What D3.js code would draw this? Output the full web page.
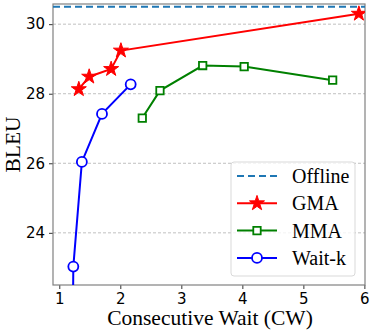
<!DOCTYPE html>
<html><head><meta charset="utf-8">
<script src="https://cdn.jsdelivr.net/npm/d3@7"></script>
<style>body{margin:0;background:#fff}</style>
</head><body>
<svg id="c" width="374" height="334"></svg>
<script>
const offlineBLEU = 30.5;
const gmaCW = [1.32, 1.49, 1.85, 2.01, 5.91];
const gmaBLEU = [28.13, 28.49, 28.71, 29.24, 30.30];
const mmaCW = [2.36, 2.65, 3.35, 4.03, 5.48];
const mmaBLEU = [27.30, 28.09, 28.81, 28.78, 28.39];
const waitkCW = [2.17, 1.70, 1.37, 1.23, 1.22];
const waitkBLEU = [28.27, 27.42, 26.04, 23.03, 21.0];
const xTicks = [1, 2, 3, 4, 5, 6];
const yTicks = [24, 26, 28, 30];
const legendLabels = ["Offline", "GMA", "MMA", "Wait-k"];

const svg = d3.select("#c");
const L = 53, R = 365, T = 4, B = 285;
const x = d3.scaleLinear().domain([0.897, 6.01]).range([L, R]);
const y = d3.scaleLinear().domain([22.5, 30.58]).range([B, T]);

svg.append("defs").append("clipPath").attr("id", "clip")
  .append("rect").attr("x", L).attr("y", T).attr("width", R - L).attr("height", B - T);

// grid
svg.append("g").selectAll("line").data(yTicks).join("line")
  .attr("x1", L).attr("x2", R).attr("y1", d => y(d)).attr("y2", d => y(d))
  .attr("stroke", "#b0b0b0").attr("stroke-width", 0.8).attr("stroke-dasharray", "3,2");

// axes
const xa = svg.append("g").attr("transform", `translate(0,${B})`)
  .call(d3.axisBottom(x).tickValues(xTicks).tickSize(4).tickPadding(4).tickFormat(d3.format("d")));
const ya = svg.append("g").attr("transform", `translate(${L},0)`)
  .call(d3.axisLeft(y).tickValues(yTicks).tickSize(4).tickPadding(4).tickFormat(d3.format("d")));
[xa, ya].forEach(a => {
  a.select(".domain").remove();
  a.selectAll("line").attr("stroke", "#333");
  a.selectAll("text").attr("font-family", "DejaVu Sans").attr("font-size", 15).attr("fill", "#000");
});

// frame
svg.append("rect").attr("x", L).attr("y", T).attr("width", R - L).attr("height", B - T)
  .attr("fill", "none").attr("stroke", "#808080").attr("stroke-width", 1.2);

const plot = svg.append("g").attr("clip-path", "url(#clip)");

// offline
plot.append("line").attr("x1", L).attr("x2", R).attr("y1", y(offlineBLEU)).attr("y2", y(offlineBLEU))
  .attr("stroke", "#1f77b4").attr("stroke-width", 2).attr("stroke-dasharray", "7,4");

const line = d3.line().x(d => x(d[0])).y(d => y(d[1]));
const star = d3.symbol().type(d3.symbolStar).size(70);
const square = d3.symbol().type(d3.symbolSquare).size(55);

function series(cw, bleu, color, marker) {
  const pts = cw.map((c, i) => [c, bleu[i]]);
  plot.append("path").datum(pts).attr("d", line).attr("fill", "none")
    .attr("stroke", color).attr("stroke-width", 2);
  const g = plot.append("g");
  pts.forEach(p => drawMarker(g, x(p[0]), y(p[1]), color, marker));
}
function drawMarker(g, cx, cy, color, marker) {
  if (marker === "star") {
    g.append("path").attr("d", star).attr("transform", `translate(${cx},${cy})`)
      .attr("fill", color).attr("stroke", color).attr("stroke-width", 1);
  } else if (marker === "square") {
    g.append("path").attr("d", square).attr("transform", `translate(${cx},${cy})`)
      .attr("fill", "#fff").attr("stroke", color).attr("stroke-width", 1.8);
  } else {
    g.append("circle").attr("cx", cx).attr("cy", cy).attr("r", 5)
      .attr("fill", "#fff").attr("stroke", color).attr("stroke-width", 1.8);
  }
}
series(gmaCW, gmaBLEU, "#ff0000", "star");
series(mmaCW, mmaBLEU, "#008000", "square");
series(waitkCW, waitkBLEU, "#0000ff", "circle");

// legend
const lg = svg.append("g");
lg.append("rect").attr("x", 231).attr("y", 162).attr("width", 124).attr("height", 114).attr("rx", 3)
  .attr("fill", "#fff").attr("fill-opacity", 0.8).attr("stroke", "#d9d9d9").attr("stroke-width", 1);
const lcol = ["#1f77b4", "#ff0000", "#008000", "#0000ff"];
const lmk = [null, "star", "square", "circle"];
legendLabels.forEach((lab, i) => {
  const yy = 176 + i * 27.3;
  lg.append("line").attr("x1", 237).attr("x2", 277).attr("y1", yy).attr("y2", yy)
    .attr("stroke", lcol[i]).attr("stroke-width", 2).attr("stroke-dasharray", i === 0 ? "7,4" : null);
  if (lmk[i]) drawMarker(lg, 257, yy, lcol[i], lmk[i]);
  lg.append("text").attr("x", 292).attr("y", yy).attr("dy", "0.35em")
    .attr("font-family", "Liberation Serif").attr("font-size", 20).text(lab);
});

// axis labels
svg.append("text").attr("x", 210).attr("y", 325).attr("text-anchor", "middle")
  .attr("font-family", "Liberation Serif").attr("font-size", 21.5).text("Consecutive Wait (CW)");
svg.append("text").attr("transform", `translate(20,${(T + B) / 2}) rotate(-90)`).attr("text-anchor", "middle")
  .attr("font-family", "Liberation Serif").attr("font-size", 21.5).text("BLEU");
</script>
</body></html>
